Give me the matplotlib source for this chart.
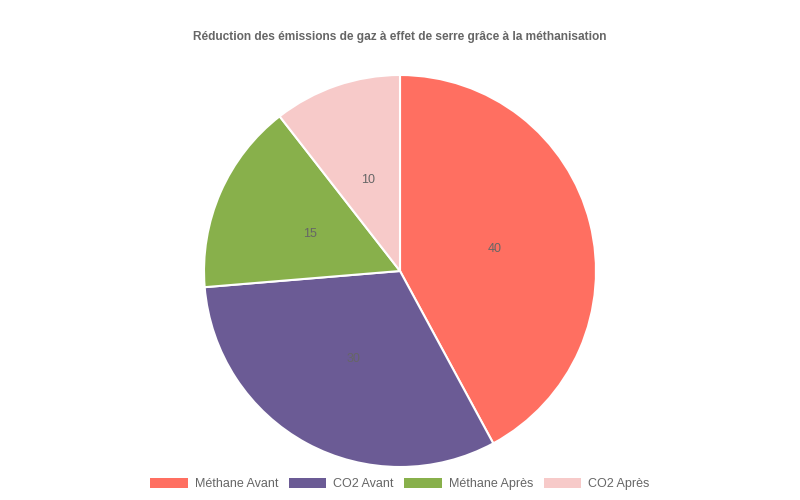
import matplotlib.pyplot as plt
from matplotlib.patches import Patch
import numpy as np

labels = ["Méthane Avant", "CO2 Avant", "Méthane Après", "CO2 Après"]
values = [40, 30, 15, 10]
colors = ["#FF6F61", "#6B5B95", "#88B04B", "#F7CAC9"]

plt.rcParams["font.family"] = ["Liberation Sans", "DejaVu Sans"]

fig = plt.figure(figsize=(8, 5), dpi=100)
ax = fig.add_axes([204 / 800, 33 / 500, 392 / 800, 392 / 500])

wedges, texts = ax.pie(values, colors=colors, startangle=90, counterclock=False,
                       radius=1.0, wedgeprops={"edgecolor": "white", "linewidth": 1.5})
ax.set_xlim(-1, 1)
ax.set_ylim(-1, 1)
ax.set_aspect("equal")

# value labels at mid radius
for w, v in zip(wedges, values):
    ang = np.deg2rad((w.theta1 + w.theta2) / 2)
    ax.text(0.5 * np.cos(ang), 0.5 * np.sin(ang) - 0.01, str(v), ha="center", va="center",
            fontsize=9, color="#666666")

fig.text(0.5, 1 - 37 / 500, "Réduction des émissions de gaz à effet de serre grâce à la méthanisation",
         ha="center", va="center", fontsize=8.6, fontweight="bold", color="#666666")

handles = [Patch(facecolor=c, edgecolor="none") for c in colors]
fig.legend(handles, labels, loc="center", bbox_to_anchor=(0.5, 1 - 484 / 500), ncol=4,
           frameon=False, fontsize=9, handlelength=3.0, handleheight=0.9,
           columnspacing=0.85, handletextpad=0.55, labelcolor="#666666")

fig.savefig("out.png", dpi=100)
